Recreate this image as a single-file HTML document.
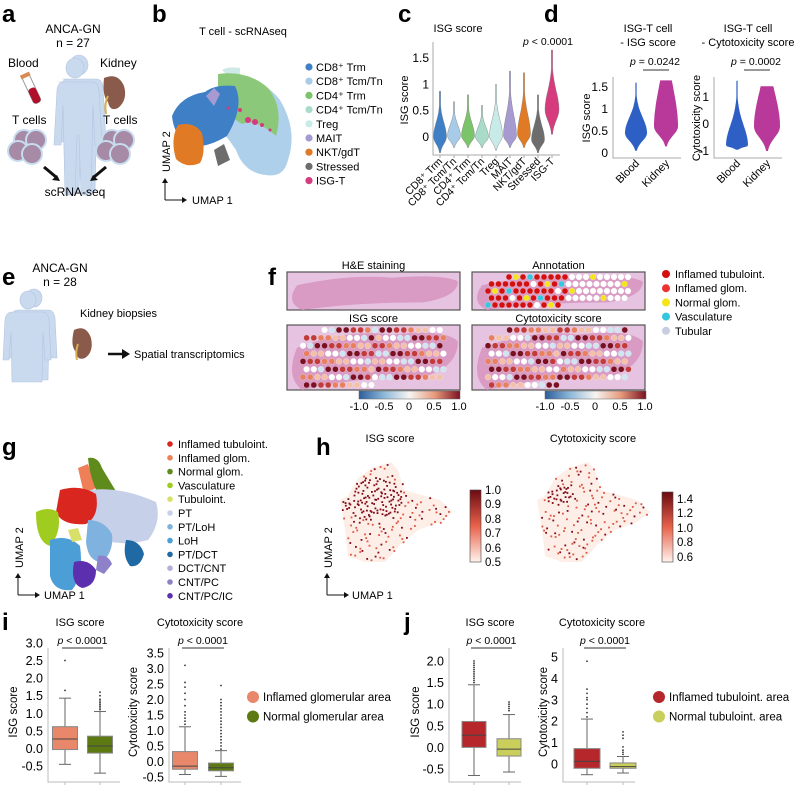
<!DOCTYPE html>
<html><head><meta charset="utf-8">
<style>
html,body{margin:0;padding:0;background:#fff;}
svg{display:block;font-family:"Liberation Sans",Arial,sans-serif;}
</style></head>
<body>
<svg id="fig" width="799" height="785" viewBox="0 0 799 785" xmlns="http://www.w3.org/2000/svg">
<defs>
<linearGradient id="rdbu" x1="0" x2="1" y1="0" y2="0"><stop offset="0" stop-color="#2c5c9c"/><stop offset="0.25" stop-color="#8fb9d9"/><stop offset="0.5" stop-color="#f7f4f2"/><stop offset="0.75" stop-color="#e79a7c"/><stop offset="1" stop-color="#7b1022"/></linearGradient>
<linearGradient id="reds" x1="0" x2="0" y1="1" y2="0"><stop offset="0" stop-color="#fff3ee"/><stop offset="0.5" stop-color="#e8624a"/><stop offset="1" stop-color="#6b0a12"/></linearGradient>
</defs>
<g font-weight="bold" font-size="24">
<text x="2" y="22">a</text><text x="152" y="22">b</text><text x="398" y="22">c</text><text x="544" y="22">d</text>
<text x="2" y="285">e</text><text x="268" y="285">f</text><text x="2" y="455">g</text><text x="316" y="455">h</text>
<text x="2" y="630">i</text><text x="404" y="630">j</text>
</g>

<!-- Panel a -->
<g id="pa" font-size="12">
<text x="73" y="33" text-anchor="middle">ANCA-GN</text><text x="73" y="47" text-anchor="middle">n = 27</text>
<text x="8" y="67">Blood</text><text x="100" y="67">Kidney</text>
<g fill="#c9d9ee" stroke="#b3c6e0" stroke-width="0.6">
<path d="M66 68 a9 10 0 1 1 18 0 a9 10 0 1 1 -18 0 M58 82 h34 q6 0 7 8 l3 55 h-7 l-2 -40 l-2 90 h-10 l-2 -60 h-2 l-2 60 h-10 l-2 -90 l-2 40 h-7 l3 -55 q1 -8 7 -8z" transform="translate(4,-3)"/>
<path d="M66 68 a9 10 0 1 1 18 0 a9 10 0 1 1 -18 0 M58 82 h34 q6 0 7 8 l3 55 h-7 l-2 -40 l-2 90 h-10 l-2 -60 h-2 l-2 60 h-10 l-2 -90 l-2 40 h-7 l3 -55 q1 -8 7 -8z"/>
</g>
<g transform="rotate(-25 32 90)"><rect x="28" y="74" width="8" height="30" rx="3" fill="#fff" stroke="#999"/><rect x="28" y="88" width="8" height="16" rx="3" fill="#b0102a"/><rect x="27" y="72" width="10" height="4" fill="#d98a50"/></g>
<path d="M104 78 q14 -6 20 8 q4 14 -6 22 q-8 4 -10 -6 q-6 -6 -4 -24z" fill="#8a5a4a"/>
<path d="M108 96 q-4 8 -2 18" stroke="#d8b050" stroke-width="2" fill="none"/>
<text x="12" y="124">T cells</text><text x="103" y="124">T cells</text>
<g fill="#a68aa6" stroke="#c8dcef" stroke-width="2"><circle cx="24" cy="140" r="10"/><circle cx="36" cy="140" r="10"/><circle cx="18" cy="151" r="10"/><circle cx="32" cy="154" r="10"/>
<circle cx="112" cy="140" r="10"/><circle cx="124" cy="140" r="10"/><circle cx="106" cy="151" r="10"/><circle cx="120" cy="154" r="10"/></g>
<path d="M44 167 l12 10" stroke="#111" stroke-width="3"/><path d="M60 181 l-8 -1 l5 -5z" fill="#111"/>
<path d="M106 167 l-12 10" stroke="#111" stroke-width="3"/><path d="M90 181 l8 -1 l-5 -5z" fill="#111"/>
<text x="75" y="196" text-anchor="middle">scRNA-seq</text>
</g>

<!-- Panel b -->
<g id="pb">
<text x="243" y="35" text-anchor="middle" font-size="11">T cell - scRNAseq</text>
<path d="M222 70 q6 -4 18 -2 l0 20z" fill="#cfe9e6"/>
<path d="M218 80 q40 -8 62 20 q18 30 8 60 q-4 18 -22 15 q-22 -2 -30 -25 q-10 -15 -16 -20z" fill="#aed0ea"/>
<path d="M218 74 q30 -4 50 14 q16 20 8 48 q-20 -18 -34 -12 q-16 -10 -24 -20z" fill="#8cc87a"/>
<path d="M205 92 q10 -8 30 -6 q10 20 -8 50 q-20 12 -35 10 q-18 -8 -20 -30 q8 -20 33 -24z" fill="#3f7fc6"/>
<path d="M178 125 q16 -4 24 8 q4 20 -2 30 q-14 6 -24 -4 q-6 -20 2 -34z" fill="#e07a24"/>
<path d="M206 96 l8 -8 l6 6 l-6 12z" fill="#a69bd0"/>
<path d="M214 150 l10 -6 l6 16 l-12 6z" fill="#6d6d6d"/>
<g fill="#d63b7d"><circle cx="248" cy="120" r="3"/><circle cx="255" cy="122" r="3"/><circle cx="240" cy="110" r="2"/><circle cx="262" cy="125" r="2"/><circle cx="228" cy="108" r="1.5"/><circle cx="270" cy="130" r="1.5"/></g>
<path d="M165 200 V180 M165 200 H185" stroke="#111" stroke-width="1" fill="none"/>
<path d="M162 183 l3 -5 l3 5z M182 197 l5 3 l-5 3z" fill="#111"/>
<text x="192" y="204" font-size="11">UMAP 1</text>
<text transform="translate(170,172) rotate(-90)" font-size="11">UMAP 2</text>
<g id="bleg" font-size="11"></g>
</g>

<g id="pc"></g>
<g id="pd"></g>

<!-- Panel e -->
<g id="pe" font-size="12">
<text x="60" y="272" text-anchor="middle">ANCA-GN</text><text x="60" y="286" text-anchor="middle">n = 28</text>
<g fill="#c9d9ee" stroke="#b3c6e0" stroke-width="0.6">
<path d="M20 300 a8 9 0 1 1 16 0 a8 9 0 1 1 -16 0 M14 312 h28 q6 0 7 8 l2 40 h-6 l-2 -28 l-1 50 h-30 l-1 -50 l-2 28 h-6 l2 -40 q1 -8 7 -8z" transform="translate(6,-2)"/>
<path d="M20 300 a8 9 0 1 1 16 0 a8 9 0 1 1 -16 0 M14 312 h28 q6 0 7 8 l2 40 h-6 l-2 -28 l-1 50 h-30 l-1 -50 l-2 28 h-6 l2 -40 q1 -8 7 -8z"/>
</g>
<path d="M74 330 q12 -6 17 8 q3 14 -6 20 q-8 3 -9 -6 q-6 -6 -2 -22z" fill="#8a5a4a"/>
<path d="M78 344 q-3 8 -1 16" stroke="#d8b050" stroke-width="2" fill="none"/>
<text x="80" y="317" font-size="11">Kidney biopsies</text>
<path d="M108 354 H124" stroke="#111" stroke-width="2.5"/><path d="M122 349 l8 5 l-8 5z" fill="#111"/>
<text x="134" y="358" font-size="11">Spatial transcriptomics</text>
</g>

<g id="pf" font-size="11"></g>

<!-- Panel g -->
<g id="pg">
<path d="M78 468 l10 -4 l8 24 l-12 6z" fill="#ee7f57"/>
<path d="M88 458 q10 -2 14 10 l18 30 q-10 6 -22 -4 q-8 -16 -10 -36z" fill="#5f8a1c"/>
<path d="M90 490 q30 -4 66 12 q6 20 -8 38 q-30 8 -58 -4z" fill="#c6d1e9"/>
<path d="M60 490 q20 -6 36 4 q4 22 -10 30 q-24 2 -30 -12z" fill="#d9261f"/>
<path d="M36 512 q12 -6 22 0 q4 20 -8 34 q-14 -4 -14 -34z" fill="#9fcc1e"/>
<path d="M50 540 q18 -6 30 6 q4 30 -8 44 q-18 2 -22 -14z" fill="#4c9fd6"/>
<path d="M88 520 q16 0 24 14 q2 18 -10 28 q-14 0 -16 -20z" fill="#7fb2df"/>
<path d="M126 540 q14 0 18 14 q-4 14 -14 12 q-8 -10 -4 -26z" fill="#1f6aa5"/>
<path d="M74 562 q14 -4 22 8 q0 16 -14 18 q-12 -4 -8 -26z" fill="#5b2fad"/>
<path d="M98 556 q10 -2 14 8 l-8 10 l-8 -4z" fill="#8e80c9"/>
<path d="M68 530 l10 -2 l4 12 l-10 2z" fill="#d8e06a"/>
<path d="M18 595 V575 M18 595 H38" stroke="#111" stroke-width="1" fill="none"/>
<path d="M15 578 l3 -5 l3 5z M35 592 l5 3 l-5 3z" fill="#111"/>
<text x="44" y="599" font-size="11">UMAP 1</text>
<text transform="translate(23,568) rotate(-90)" font-size="11">UMAP 2</text>
<g id="gleg" font-size="11"></g>
</g>

<!-- Panel h -->
<g id="ph" font-size="11">
<text x="390" y="442" text-anchor="middle">ISG score</text>
<text x="593" y="442" text-anchor="middle">Cytotoxicity score</text>
<g id="hdots"></g>
<rect x="470" y="490" width="11" height="72" fill="url(#reds)" stroke="#444" stroke-width="0.6"/>
<rect x="662" y="492" width="11" height="70" fill="url(#reds)" stroke="#444" stroke-width="0.6"/>
<g font-size="11.5"><text x="485" y="494">1.0</text><text x="485" y="508">0.9</text><text x="485" y="523">0.8</text><text x="485" y="537">0.7</text><text x="485" y="552">0.6</text><text x="485" y="566">0.5</text>
<text x="677" y="503">1.4</text><text x="677" y="517">1.2</text><text x="677" y="532">1.0</text><text x="677" y="546">0.8</text><text x="677" y="561">0.6</text></g>
<path d="M327 595 V575 M327 595 H347" stroke="#111" stroke-width="1" fill="none"/>
<path d="M324 578 l3 -5 l3 5z M344 592 l5 3 l-5 3z" fill="#111"/>
<text x="352" y="599">UMAP 1</text>
<text transform="translate(332,568) rotate(-90)">UMAP 2</text>
</g>

<g id="pi"></g>
<g id="pj"></g>
</svg>

<script>
const NS="http://www.w3.org/2000/svg";
function mk(parent,tag,attrs,text){const e=document.createElementNS(NS,tag);for(const k in attrs)e.setAttribute(k,attrs[k]);if(text!==undefined)e.textContent=text;parent.appendChild(e);return e;}

const bLabels=["CD8\u207A Trm","CD8\u207A Tcm/Tn","CD4\u207A Trm","CD4\u207A Tcm/Tn","Treg","MAIT","NKT/gdT","Stressed","ISG-T"];
const bColors=["#3f7fc6","#a8cbe8","#7cc46a","#a8dcc8","#c8ebe8","#a69bd0","#e07a24","#6d6d6d","#d63b7d"];
const bleg=document.getElementById('bleg');
bLabels.forEach((l,i)=>{const y=67+i*14.2;
 const c=mk(bleg,'circle',{cx:309,cy:y,r:3.6,fill:bColors[i]});
 
 const t=mk(bleg,'text',{x:316,y:y+4},l);
 });

function violinPath(cx,yS,vmin,vmax,vmode,w,flat){
 let L=[],R=[];const n=40;
 for(let k=0;k<=n;k++){const v=vmin+(vmax-vmin)*k/n;let hw;
  if(v<vmode){const s=(vmode-vmin)/2.3;hw=w*Math.exp(-0.5*((v-vmode)/s)**2);}
  else{const s=(vmax-vmode)/(flat?1.2:3.2);hw=w*Math.exp(-0.5*((v-vmode)/s)**2);}
  hw=Math.max(hw,0.6);const y=yS(v);L.push([cx-hw,y]);R.push([cx+hw,y]);}
 const pts=L.concat(R.reverse());
 return "M"+pts.map(p=>p[0].toFixed(1)+" "+p[1].toFixed(1)).join(" L")+"Z";
}

// ---------- Panel c ----------
const cCats=["CD8\u207A Trm","CD8\u207A Tcm/Tn","CD4\u207A Trm","CD4\u207A Tcm/Tn","Treg","MAIT","NKT/gdT","Stressed","ISG-T"];
const cMin=[-0.3,-0.2,-0.2,-0.2,-0.25,-0.2,-0.2,-0.3,0.05];
const cMax=[0.87,0.67,0.8,0.6,1.0,1.25,1.22,0.8,1.65];
const cMode=[0.0,0.02,0.02,0.0,0.02,0.02,0.05,-0.05,0.52];
const cTicks=[0,0.5,1,1.5];
(function(){const g=document.getElementById('pc');
 const yS=v=>137-v*52.7; const xS=i=>440+i*14;
 mk(g,'text',{x:458,y:32,'font-size':11,'text-anchor':'middle'},"ISG score");
 const p=mk(g,'text',{x:548,y:45,'font-size':10.5,'text-anchor':'middle'});p.innerHTML='<tspan font-style="italic">p</tspan> &lt; 0.0001';
 mk(g,'path',{d:"M433 42 V155 H560",stroke:"#aaa",fill:"none"});
 cTicks.forEach(t=>{mk(g,'text',{x:429,y:yS(t)+4,'font-size':12,'text-anchor':'end'},String(t));});
 mk(g,'text',{transform:"translate(408,100) rotate(-90)",'font-size':11,'text-anchor':'middle'},"ISG score");
 cCats.forEach((c,i)=>{const v=mk(g,'path',{d:violinPath(xS(i),yS,cMin[i],cMax[i],cMode[i],i==8?7:6.5),fill:bColors[i],stroke:"#777","stroke-width":0.4});
  
  mk(g,'line',{x1:xS(i),x2:xS(i),y1:155,y2:158,stroke:"#aaa"});
  const t=mk(g,'text',{transform:`translate(${xS(i)+3},${162}) rotate(-45)`,'font-size':10.5,'text-anchor':'end'},c);
  });
})();

// ---------- Panel d ----------
const dCats=["Blood","Kidney"];
const dIsgMin=[0.05,0.15], dIsgMax=[1.6,1.65], dIsgMode=[0.45,0.6];
const dCytMin=[-0.95,-1.0], dCytMax=[1.6,1.4], dCytMode=[-0.8,-0.1];
function dPanel(g,ax,y0,perU,ticks,mins,maxs,modes,widths,flat,title1,title2,tx,pv,ylab,labX){
 const yS=v=>y0-v*perU;
 mk(g,'text',{x:tx,y:32,'font-size':11,'text-anchor':'middle'},title1);
 mk(g,'text',{x:tx,y:46,'font-size':11,'text-anchor':'middle'},title2);
 const p=mk(g,'text',{x:ax+42,y:65,'font-size':10.5,'text-anchor':'middle'});p.innerHTML='<tspan font-style="italic">p</tspan> = '+pv;
 mk(g,'line',{x1:ax+30,x2:ax+56,y1:70,y2:70,stroke:"#333"});
 mk(g,'path',{d:`M${ax} 77 V158 H${ax+68}`,stroke:"#aaa",fill:"none"});
 ticks.forEach(t=>mk(g,'text',{x:ax-5,y:yS(t)+4,'font-size':12,'text-anchor':'end'},String(t)));
 mk(g,'text',{transform:`translate(${labX},118) rotate(-90)`,'font-size':11,'text-anchor':'middle'},ylab);
 dCats.forEach((c,i)=>{const cx=ax+23+i*30;
  const v=mk(g,'path',{d:violinPath(cx,yS,mins[i],maxs[i],modes[i],widths[i],flat[i]),fill:i?"#b8399a":"#2d5fc4"});
  
  mk(g,'text',{transform:`translate(${cx+4},164) rotate(-45)`,'font-size':11,'text-anchor':'end'},c);});
}
(function(){const g=document.getElementById('pd');
 dPanel(g,613,153,44,[0,0.5,1,1.5],dIsgMin,dIsgMax,dIsgMode,[11,12],[false,true],"ISG-T cell","- ISG score",648,"0.0242","ISG score",590);
 dPanel(g,714,124,27,[-1,0,1],dCytMin,dCytMax,dCytMode,[11,13],[false,true],"ISG-T cell","- Cytotoxicity score",748,"0.0002","Cytotoxicity score",700);
})();

// ---------- Panel f ----------
(function(){const g=document.getElementById('pf');
 const boxes=[[287,272,173,38,"H&E staining"],[472,272,173,38,"Annotation"],[287,325,173,65,"ISG score"],[472,325,173,65,"Cytotoxicity score"]];
 const annC=["#d40f0f","#ee3030","#f4e418","#35c6e0","#ffffff"];
 const ann2=["#7b1022","#c23a3a","#e88060","#f5c0a8","#ffffff","#cfe6f2"];
 boxes.forEach((b,bi)=>{const [x,y,w,h,t]=b;
  mk(g,'rect',{x:x,y:y,width:w,height:h,fill:"#e6c3e0",stroke:"#555","stroke-width":1.2});
  mk(g,'text',{x:x+w/2,y:y-3,'text-anchor':'middle'},t);
  mk(g,'path',{d:`M${x+10} ${y+h*0.35} q${w*0.3} ${-h*0.3} ${w*0.55} ${-h*0.2} q${w*0.3} ${-h*0.1} ${w*0.38} ${h*0.1} q0 ${h*0.4} -${w*0.2} ${h*0.55} q-${w*0.4} 0 -${w*0.7} ${h*0.2} q-${w*0.1} -${h*0.2} -${w*0.03} -${h*0.65}z`,fill:"#d99ac4"});
  if(bi>0){const rows=bi==1?5:8, sp=bi==1?7:7.2;
   for(let r=0;r<rows;r++)for(let c=0;c<22;c++){const cx=x+16+c*sp+(r%2)*sp/2, cy=y+5+r*(h-10)/(rows-1);
    const fx=(cx-x)/w, fy=(cy-y)/h; const edge=fx<0.06||fx>0.92||(fx>0.5&&fy>0.85)||(fx<0.2&&fy<0.15);
    if(edge)continue; const hsh=(r*31+c*17+bi*7)%11;
    let col; if(bi==1){col=fx<0.55&&hsh<8?annC[0]:(hsh==9?annC[2]:(hsh==10&&fx<0.6?annC[3]:annC[4]));}
    else{col=ann2[(hsh+(fx<0.5?0:3))%6];}
    mk(g,'circle',{cx:cx,cy:cy,r:3,fill:col,stroke:"#eee","stroke-width":0.3});}}
 });
 [[359,391],[545,391]].forEach(([x,y])=>{mk(g,'rect',{x:x,y:y,width:101,height:8,fill:"url(#rdbu)",stroke:"#666","stroke-width":0.5});
  ["-1.0","-0.5","0","0.5","1.0"].forEach((l,i)=>mk(g,'text',{x:x+i*25,y:y+19,'text-anchor':'middle','font-size':11},l));});
 const fl=["Inflamed tubuloint.","Inflamed glom.","Normal glom.","Vasculature","Tubular"];
 const fc=["#d40f0f","#ee3030","#f4e418","#35c6e0","#c9cde0"];
 fl.forEach((l,i)=>{const y=274+i*14.2;
  const c=mk(g,'circle',{cx:666,cy:y,r:4,fill:fc[i]});
  mk(g,'text',{x:675,y:y+4},l);});
})();

// ---------- Panel g legend ----------
const gLabels=["Inflamed tubuloint.","Inflamed glom.","Normal glom.","Vasculature","Tubuloint.","PT","PT/LoH","LoH","PT/DCT","DCT/CNT","CNT/PC","CNT/PC/IC"];
const gColors=["#d9261f","#ee7f57","#5f8a1c","#9fcc1e","#d8e06a","#c6d1e9","#7fb2df","#4c9fd6","#1f6aa5","#b3aed9","#8e80c9","#5b2fad"];
(function(){const g=document.getElementById('gleg');
 gLabels.forEach((l,i)=>{const y=444+i*13.8;
  const c=mk(g,'circle',{cx:170,cy:y,r:2.8,fill:gColors[i]});
  mk(g,'text',{x:178,y:y+4},l);});})();

// ---------- Panel h decorative dots ----------
(function(){const g=document.getElementById('hdots');
 const poly=[[340,500],[348,496],[358,478],[372,468],[391,462],[398,470],[404,490],[440,500],[453,512],[440,522],[418,530],[400,545],[385,562],[365,562],[348,556],[345,530]];
 function inside(x,y){let c=false;for(let i=0,j=poly.length-1;i<poly.length;j=i++){const [xi,yi]=poly[i],[xj,yj]=poly[j];
  if(((yi>y)!=(yj>y))&&(x<(xj-xi)*(y-yi)/(yj-yi)+xi))c=!c;}return c;}
 function halton(i,b){let f=1,r=0;while(i>0){f/=b;r+=f*(i%b);i=Math.floor(i/b);}return r;}
 [[0,[372,498],32],[197,[362,494],16]].forEach(([dx,dense,rad])=>{
  mk(g,'path',{d:"M"+poly.map(p=>(p[0]+dx)+" "+p[1]).join(" L")+"Z",fill:"#fdeee8"});
  for(let i=1;i<1400;i++){const x=340+halton(i,2)*113,y=462+halton(i,3)*100;
   if(!inside(x,y))continue;
   const d=Math.hypot(x-dense[0],(y-dense[1])*1.5);
   const hsh=(i*7919+dx)%17;
   const inDense=d<rad;
   if(!(inDense? hsh<8 : hsh<3))continue;
   const dark=inDense||hsh==0;
   mk(g,'rect',{x:(x+dx).toFixed(1),y:y.toFixed(1),width:1.8,height:1.8,fill:dark?"#7d0a16":"#e0553f"});}});
})();

// ---------- Box plots ----------
function boxPanel(g,o){
 const yS=v=>o.y0-v*o.perU;
 mk(g,'text',{x:o.tx,y:626,'font-size':11,'text-anchor':'middle'},o.title);
 const p=mk(g,'text',{x:(o.cx[0]+o.cx[1])/2,y:644,'font-size':10.5,'text-anchor':'middle'});p.innerHTML='<tspan font-style="italic">p</tspan> &lt; 0.0001';
 mk(g,'line',{x1:o.cx[0]-3,x2:o.cx[1]+3,y1:648,y2:648,stroke:"#333"});
 mk(g,'path',{d:`M${o.ax} 648 V782 H${o.ax+72}`,stroke:"#bbb",fill:"none"});
 o.ticks.forEach(t=>mk(g,'text',{x:o.ax-5,y:yS(t)+4.5,'font-size':12.5,'text-anchor':'end'},o.fmt(t)));
 mk(g,'text',{transform:`translate(${o.labX},712) rotate(-90)`,'font-size':11.5,'text-anchor':'middle'},o.ylab);
 for(let i=0;i<2;i++){const cx=o.cx[i],hw=o.hw;
  const grp=mk(g,'g',{});
  mk(grp,'line',{x1:cx,x2:cx,y1:yS(o.wlo[i]),y2:yS(o.whi[i]),stroke:"#666"});
  mk(grp,'line',{x1:cx-6,x2:cx+6,y1:yS(o.wlo[i]),y2:yS(o.wlo[i]),stroke:"#666"});
  mk(grp,'line',{x1:cx-6,x2:cx+6,y1:yS(o.whi[i]),y2:yS(o.whi[i]),stroke:"#666"});
  mk(grp,'rect',{x:cx-hw,y:yS(o.q3[i]),width:2*hw,height:yS(o.q1[i])-yS(o.q3[i]),fill:o.colors[i],stroke:"#888"});
  mk(grp,'line',{x1:cx-hw,x2:cx+hw,y1:yS(o.med[i]),y2:yS(o.med[i]),stroke:"#444"});
  o.out[i].forEach(v=>mk(grp,'circle',{cx:cx,cy:yS(v),r:0.9,fill:"#333"}));
  mk(g,'line',{x1:cx,x2:cx,y1:782,y2:785,stroke:"#bbb"});}
}
const iIsgQ1=[-0.03,-0.13], iIsgMed=[0.27,0.07], iIsgQ3=[0.62,0.35], iIsgLo=[-0.45,-0.7], iIsgHi=[1.43,1.05];
const iIsgOut=[[1.65,2.5],[1.1,1.15,1.2,1.25,1.3,1.35,1.4,1.5,1.6]];
const iCytQ1=[-0.25,-0.3], iCytMed=[-0.15,-0.2], iCytQ3=[0.32,-0.05], iCytLo=[-0.42,-0.48], iCytHi=[1.12,0.35];
const iCytOut=[[1.2,1.3,1.4,1.5,1.6,1.8,2.0,2.2,2.4,2.55,3.1],[0.4,0.5,0.6,0.7,0.8,0.9,1.0,1.1,1.2,1.3,1.4,1.5,1.6,1.7,1.8,1.9,2.0,2.45]];
const jIsgQ1=[0,-0.2], jIsgMed=[0.28,-0.04], jIsgQ3=[0.6,0.2], jIsgLo=[-0.65,-0.57], jIsgHi=[1.45,0.76];
const jIsgOut=[[1.5,1.55,1.6,1.65,1.7,1.75,1.8,1.85,1.9,1.95,2.0],[0.85,0.9,0.95,1.0,1.05]];
const jCytQ1=[-0.2,-0.2], jCytMed=[0.12,-0.12], jCytQ3=[0.72,0.05], jCytLo=[-0.5,-0.42], jCytHi=[2.1,0.35];
const jCytOut=[[2.2,2.4,2.6,2.8,3.0,3.1,3.3,3.5,4.8],[0.45,0.55,0.65,0.8,1.2,1.35,1.5]];
(function(){
 const gi=document.getElementById('pi'), gj=document.getElementById('pj');
 const f1=t=>t.toFixed(1);
 boxPanel(gi,{title:"ISG score",tx:80,ax:48,y0:748.5,perU:35.2,ticks:[-0.5,0,0.5,1,1.5,2,2.5,3],fmt:f1,ylab:"ISG score",labX:17,cx:[65,100],hw:12.5,colors:["#e8876a","#5d7a12"],q1:iIsgQ1,med:iIsgMed,q3:iIsgQ3,wlo:iIsgLo,whi:iIsgHi,out:iIsgOut});
 boxPanel(gi,{title:"Cytotoxicity score",tx:200,ax:169,y0:761.5,perU:31,ticks:[-0.5,0,0.5,1,1.5,2,2.5,3,3.5],fmt:f1,ylab:"Cytotoxicity  score",labX:137,cx:[185,221],hw:12.5,colors:["#e8876a","#5d7a12"],q1:iCytQ1,med:iCytMed,q3:iCytQ3,wlo:iCytLo,whi:iCytHi,out:iCytOut});
 boxPanel(gj,{title:"ISG score",tx:490,ax:449,y0:747.4,perU:43.2,ticks:[-0.5,0,0.5,1,1.5,2],fmt:f1,ylab:"ISG score",labX:419,cx:[474,509],hw:12,colors:["#b5272b","#c9cf5a"],q1:jIsgQ1,med:jIsgMed,q3:jIsgQ3,wlo:jIsgLo,whi:jIsgHi,out:jIsgOut});
 boxPanel(gj,{title:"Cytotoxicity score",tx:602,ax:563,y0:764,perU:21.4,ticks:[0,1,2,3,4,5],fmt:t=>String(t),ylab:"Cytotoxicity  score",labX:547,cx:[587,623],hw:13,colors:["#b5272b","#c9cf5a"],q1:jCytQ1,med:jCytMed,q3:jCytQ3,wlo:jCytLo,whi:jCytHi,out:jCytOut});
 const legs=[[gi,253,["Inflamed glomerular area","Normal glomerular area"],["#e8876a","#5d7a12"]],[gj,659,["Inflamed tubuloint. area","Normal tubuloint. area"],["#b5272b","#c9cf5a"]]];
 legs.forEach(([g,x,ls,cs])=>ls.forEach((l,i)=>{const y=697+i*19.5;
  const c=mk(g,'circle',{cx:x,cy:y,r:6,fill:cs[i]});
  mk(g,'text',{x:x+10,y:y+4,'font-size':11.5},l);}));
})();
</script>
</body></html>
